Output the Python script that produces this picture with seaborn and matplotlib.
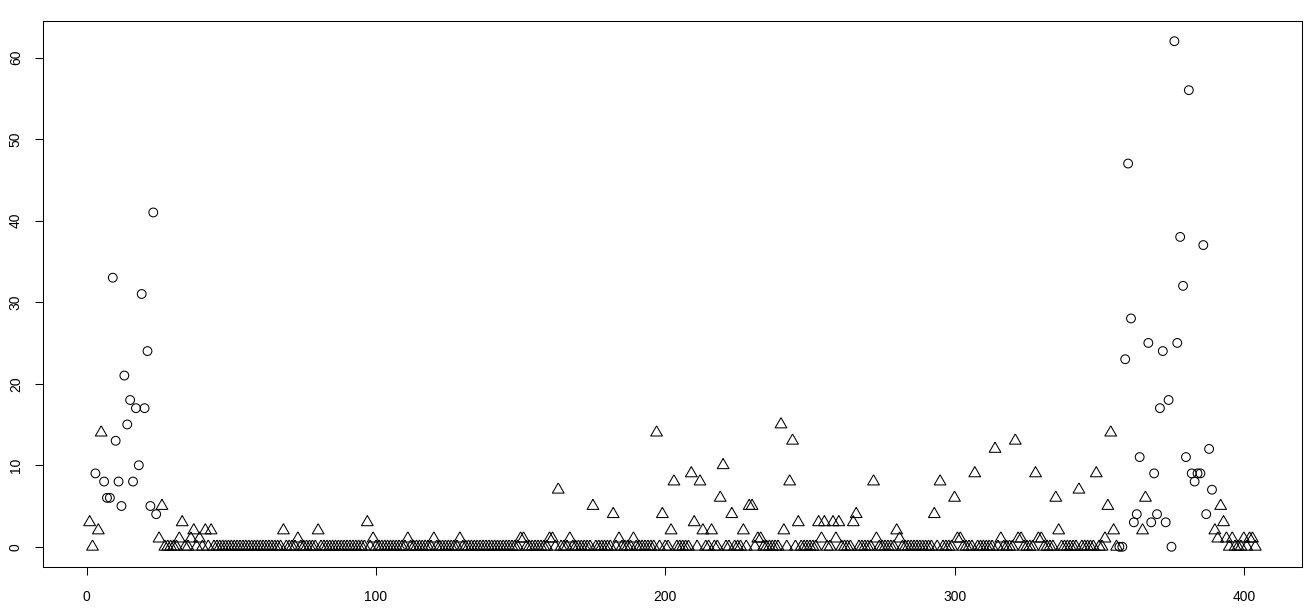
import numpy as np
import pandas as pd
import matplotlib
matplotlib.use("Agg")
import matplotlib.pyplot as plt
import seaborn as sns

# ---------------- data ----------------
n_points = 404

circle_index = [3, 6, 7, 8, 9, 10, 11, 12, 13, 14, 15, 16, 17, 18, 19, 20, 21, 22, 23, 24,
                357, 358, 359, 360, 361, 362, 363, 364,
                367, 368, 369, 370, 371, 372, 373, 374, 375, 376, 377, 378, 379, 380,
                381, 382, 383, 384, 385, 386, 387, 388, 389]
circle_value = [9, 8, 6, 6, 33, 13, 8, 5, 21, 15, 18, 8, 17, 10, 31, 17, 24, 5, 41, 4,
                0, 0, 23, 47, 28, 3, 4, 11,
                25, 3, 9, 4, 17, 24, 3, 18, 0, 62, 25, 38, 32, 11,
                56, 9, 8, 9, 9, 37, 4, 12, 7]

triangle_index = [1, 4, 5, 25, 26, 32, 33, 36, 37, 39, 41, 43, 68, 73, 80, 97, 99,
                  111, 120, 129, 150, 151, 160, 161, 163, 167, 175, 182, 184, 189,
                  197, 199, 202, 203, 209, 210, 212, 213, 216, 219, 220, 223, 227,
                  229, 230, 232, 233, 240, 241, 243, 244, 246, 253, 254, 255, 258,
                  259, 260, 265, 266, 272, 273, 280, 281, 293, 295, 300, 301, 302,
                  307, 314, 316, 321, 322, 323, 328, 329, 330, 335, 336, 343, 349,
                  352, 353, 354, 355, 365, 366, 390, 391, 392, 393, 394, 396, 400,
                  402, 403]
triangle_value = [3, 2, 14, 1, 5, 1, 3, 1, 2, 1, 2, 2, 2, 1, 2, 3, 1,
                  1, 1, 1, 1, 1, 1, 1, 7, 1, 5, 4, 1, 1,
                  14, 4, 2, 8, 9, 3, 8, 2, 2, 6, 10, 4, 2,
                  5, 5, 1, 1, 15, 2, 8, 13, 3, 3, 1, 3, 3,
                  1, 3, 3, 4, 8, 1, 2, 1, 4, 8, 6, 1, 1,
                  9, 12, 1, 13, 1, 1, 9, 1, 1, 6, 2, 7, 9,
                  1, 5, 14, 2, 2, 6, 2, 1, 5, 3, 1, 1, 1,
                  1, 1]

x_ticks = [0, 100, 200, 300, 400]
y_ticks = [0, 10, 20, 30, 40, 50, 60]

# ---------------- table ----------------
values = np.zeros(n_points)
shape = np.array(["triangle"] * n_points, dtype=object)
for i, v in zip(triangle_index, triangle_value):
    values[i - 1] = v
for i, v in zip(circle_index, circle_value):
    values[i - 1] = v
    shape[i - 1] = "circle"
df = pd.DataFrame({"index": np.arange(1, n_points + 1), "value": values, "shape": shape})

# ---------------- figure ----------------
plt.rcParams["font.family"] = ["Liberation Sans", "DejaVu Sans"]
W, H = 1314, 608
fig = plt.figure(figsize=(W / 100, H / 100), dpi=100)
ax = fig.add_axes([43 / W, 1 - 567 / H, (1302 - 43) / W, (567 - 21) / H])

# R-style pch=2 triangle (circumcentred, equilateral)
tri_marker = [(0, 1.555), (1.347, -0.778), (-1.347, -0.778), (0, 1.555)]

sns.scatterplot(data=df[df["shape"] == "triangle"], x="index", y="value",
                marker=tri_marker, s=95, facecolor="none", edgecolor="black",
                linewidth=0.75, legend=False, ax=ax)
sns.scatterplot(data=df[df["shape"] == "circle"], x="index", y="value",
                marker="o", s=40, facecolor="none", edgecolor="black",
                linewidth=0.75, legend=False, ax=ax)
for coll in ax.collections:
    coll.set_facecolor("none")
    coll.set_edgecolor("black")
    coll.set_linewidth(0.75)

rng_x = n_points - 1
ax.set_xlim(1 - 0.04 * rng_x, n_points + 0.04 * rng_x)
ymax = max(values)
ax.set_ylim(-0.04 * ymax, ymax * 1.04)

ax.set_xticks(x_ticks)
ax.set_yticks(y_ticks)
ax.set_xlabel("")
ax.set_ylabel("")
ax.tick_params(axis="both", direction="out", length=5.5, width=0.75,
               colors="black", labelsize=10)
ax.tick_params(axis="x", pad=11)
ax.tick_params(axis="y", pad=9, labelrotation=90)
for lab in ax.get_yticklabels():
    lab.set_va("center")
for sp in ax.spines.values():
    sp.set_visible(True)
    sp.set_color("black")
    sp.set_linewidth(0.75)
ax.set_facecolor("white")
fig.patch.set_facecolor("white")

fig.savefig("out.png", dpi=100)
